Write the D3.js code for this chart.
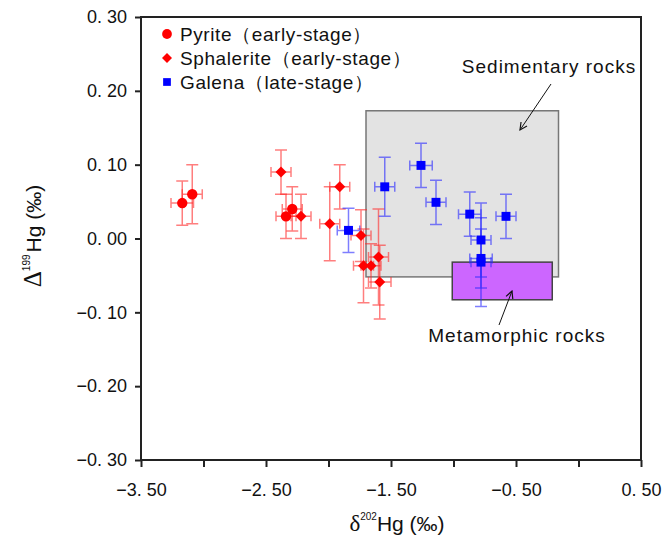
<!DOCTYPE html>
<html lang="en">
<head>
    <meta charset="UTF-8">
    <title>Hg isotopes scatter</title>
    <script src="https://d3js.org/d3.v7.min.js"></script>
    <style>
        body {
            margin: 0;
            background: #fff;
            font-family: 'Liberation Sans', Arial, sans-serif;
        }
        .tick text {
            font-size: 18px;
            fill: #111;
        }
        .axis path, .axis line {
            stroke: #222;
            stroke-width: 2px;
        }
        .legend text {
            font-size: 19px;
            letter-spacing: 0.6px;
            fill: #111;
        }
        .note {
            font-size: 19px;
            letter-spacing: 1px;
            fill: #111;
        }
    </style>
</head>
<body>
    <div id="chart"></div>
    <script>
        // data: x = δ202Hg, y = Δ199Hg, with error half-widths
        const pyrite = [
            { x: -3.17, y: 0.048, ex: 0.09, ey: 0.03 },
            { x: -3.09, y: 0.060, ex: 0.08, ey: 0.04 },
            { x: -2.29, y: 0.040, ex: 0.08, ey: 0.03 },
            { x: -2.34, y: 0.030, ex: 0.08, ey: 0.03 }
        ];
        const sphalerite = [
            { x: -2.38, y: 0.090, ex: 0.08, ey: 0.03 },
            { x: -2.22, y: 0.030, ex: 0.08, ey: 0.03 },
            { x: -1.91, y: 0.070, ex: 0.08, ey: 0.03 },
            { x: -1.99, y: 0.020, ex: 0.08, ey: 0.05 },
            { x: -1.74, y: 0.004, ex: 0.08, ey: 0.035 },
            { x: -1.72, y: -0.037, ex: 0.08, ey: 0.05 },
            { x: -1.66, y: -0.037, ex: 0.08, ey: 0.03 },
            { x: -1.60, y: -0.025, ex: 0.08, ey: 0.065 },
            { x: -1.59, y: -0.059, ex: 0.09, ey: 0.05 }
        ];
        const galena = [
            { x: -1.84, y: 0.011, ex: 0.09, ey: 0.03 },
            { x: -1.55, y: 0.070, ex: 0.08, ey: 0.04 },
            { x: -1.26, y: 0.099, ex: 0.09, ey: 0.03 },
            { x: -1.14, y: 0.049, ex: 0.08, ey: 0.03 },
            { x: -0.87, y: 0.033, ex: 0.09, ey: 0.03 },
            { x: -0.58, y: 0.030, ex: 0.08, ey: 0.03 },
            { x: -0.78, y: -0.002, ex: 0.08, ey: 0.05 },
            { x: -0.78, y: -0.027, ex: 0.09, ey: 0.04 },
            { x: -0.78, y: -0.032, ex: 0.08, ey: 0.06 }
        ];
        const xTicks = [-3.5, -2.5, -1.5, -0.5, 0.5];
        const xMinorTicks = [-3.5, -3, -2.5, -2, -1.5, -1, -0.5, 0, 0.5];
        const yTicks = [0.3, 0.2, 0.1, 0, -0.1, -0.2, -0.3];
        const sedimentaryBox = { x0: -1.70, x1: -0.16, y0: -0.052, y1: 0.173 };
        const metamorphicBox = { x0: -1.01, x1: -0.21, y0: -0.083, y1: -0.032 };

        const margin = { top: 17, right: 26, bottom: 76, left: 141 };
        const W = 667, H = 536;
        const width = W - margin.left - margin.right;
        const height = H - margin.top - margin.bottom;

        const svg = d3.select("#chart").append("svg")
            .attr("width", W)
            .attr("height", H);
        const g = svg.append("g")
            .attr("transform", `translate(${margin.left},${margin.top})`);

        const x = d3.scaleLinear().domain([-3.5, 0.5]).range([0, width]);
        const y = d3.scaleLinear().domain([-0.3, 0.3]).range([height, 0]);

        const fmt = v => d3.format(".2f")(v).replace("-", "\u2212").replace(".", ". ");

        // reference fields
        g.append("rect")
            .attr("x", x(sedimentaryBox.x0))
            .attr("y", y(sedimentaryBox.y1))
            .attr("width", x(sedimentaryBox.x1) - x(sedimentaryBox.x0))
            .attr("height", y(sedimentaryBox.y0) - y(sedimentaryBox.y1))
            .attr("fill", "#e3e3e3")
            .attr("stroke", "#777")
            .attr("stroke-width", 1.5);
        g.append("rect")
            .attr("x", x(metamorphicBox.x0))
            .attr("y", y(metamorphicBox.y1))
            .attr("width", x(metamorphicBox.x1) - x(metamorphicBox.x0))
            .attr("height", y(metamorphicBox.y0) - y(metamorphicBox.y1))
            .attr("fill", "#cc66ff")
            .attr("stroke", "#444")
            .attr("stroke-width", 1.5);

        // axes
        g.append("g")
            .attr("class", "axis")
            .attr("transform", `translate(0,${height})`)
            .call(d3.axisBottom(x).tickValues(xMinorTicks).tickSize(7).tickPadding(16)
                .tickFormat(d => xTicks.includes(d) ? fmt(d) : ""));
        g.append("g")
            .attr("class", "axis")
            .call(d3.axisLeft(y).tickValues(yTicks).tickSize(6).tickPadding(8).tickFormat(fmt));
        g.selectAll(".axis .domain").attr("d", null);
        // frame
        g.append("rect")
            .attr("width", width)
            .attr("height", height)
            .attr("fill", "none")
            .attr("stroke", "#222")
            .attr("stroke-width", 2);

        const diamond = "rotate(45)";
        const series = [
            { data: pyrite, color: "red", bar: "rgba(255,40,40,0.6)", shape: d3.symbolCircle, size: 85, rot: "" },
            { data: sphalerite, color: "red", bar: "rgba(255,40,40,0.6)", shape: d3.symbolSquare, size: 60, rot: diamond },
            { data: galena, color: "blue", bar: "rgba(40,40,255,0.6)", shape: d3.symbolSquare, size: 80, rot: "" }
        ];

        const cap = 6;
        series.forEach(s => {
            const eb = g.append("g").attr("stroke", s.bar).attr("stroke-width", 1.5).attr("fill", "none");
            s.data.forEach(d => {
                const cx = x(d.x), cy = y(d.y);
                const yt = y(d.y + d.ey), yb = y(d.y - d.ey);
                const xl = x(d.x - d.ex), xr = x(d.x + d.ex);
                eb.append("path").attr("d",
                    `M${cx},${yt}V${yb}M${cx - cap},${yt}H${cx + cap}M${cx - cap},${yb}H${cx + cap}` +
                    `M${xl},${cy}H${xr}M${xl},${cy - 5}V${cy + 5}M${xr},${cy - 5}V${cy + 5}`);
            });
        });
        series.forEach(s => {
            g.selectAll(null)
                .data(s.data)
                .enter()
                .append("path")
                .attr("d", d3.symbol().type(s.shape).size(s.size))
                .attr("transform", d => `translate(${x(d.x)},${y(d.y)}) ${s.rot}`)
                .attr("fill", s.color);
        });

        // legend
        const legendItems = [
            { label: "Pyrite（early-stage）", color: "red", shape: d3.symbolCircle, size: 75, rot: "" },
            { label: "Sphalerite（early-stage）", color: "red", shape: d3.symbolSquare, size: 50, rot: diamond },
            { label: "Galena（late-stage）", color: "blue", shape: d3.symbolSquare, size: 60, rot: "" }
        ];
        const legend = svg.append("g").attr("class", "legend");
        legendItems.forEach((d, i) => {
            const ly = 34 + i * 24;
            legend.append("path")
                .attr("d", d3.symbol().type(d.shape).size(d.size))
                .attr("transform", `translate(167,${ly}) ${d.rot}`)
                .attr("fill", d.color);
            legend.append("text")
                .attr("x", 180)
                .attr("y", ly + 7)
                .text(d.label);
        });

        // annotations
        svg.append("defs").append("marker")
            .attr("id", "arr")
            .attr("viewBox", "0 0 10 10")
            .attr("refX", 9).attr("refY", 5)
            .attr("markerWidth", 9).attr("markerHeight", 9)
            .attr("orient", "auto")
            .append("path")
            .attr("d", "M1,1L9,5L1,9")
            .attr("fill", "none")
            .attr("stroke", "#111")
            .attr("stroke-width", 1.3);

        svg.append("text").attr("class", "note")
            .attr("x", 549).attr("y", 73).attr("text-anchor", "middle")
            .text("Sedimentary rocks");
        svg.append("line")
            .attr("x1", 551).attr("y1", 84).attr("x2", 520).attr("y2", 130)
            .attr("stroke", "#111").attr("stroke-width", 1)
            .attr("marker-end", "url(#arr)");

        svg.append("text").attr("class", "note")
            .attr("x", 517).attr("y", 342).attr("text-anchor", "middle")
            .text("Metamorphic rocks");
        svg.append("line")
            .attr("x1", 499).attr("y1", 325).attr("x2", 512).attr("y2", 291)
            .attr("stroke", "#111").attr("stroke-width", 1)
            .attr("marker-end", "url(#arr)");

        // axis titles
        const yt = svg.append("text")
            .attr("transform", "translate(41,236) rotate(-90)")
            .attr("text-anchor", "middle")
            .attr("font-size", 21)
            .attr("fill", "#111");
        yt.append("tspan").attr("font-family", "'Liberation Serif', serif").attr("font-size", 25).text("Δ");
        yt.append("tspan").attr("font-size", 10).attr("dy", -11).text("199");
        yt.append("tspan").attr("dy", 11).attr("dx", 2).text("Hg (‰)");

        const xt = svg.append("text")
            .attr("x", 397).attr("y", 531)
            .attr("text-anchor", "middle")
            .attr("font-size", 21)
            .attr("fill", "#111");
        xt.append("tspan").attr("font-family", "'Liberation Serif', serif").attr("font-size", 23).text("δ");
        xt.append("tspan").attr("font-size", 10).attr("dy", -11).text("202");
        xt.append("tspan").attr("dy", 11).text("Hg (‰)");
    </script>
</body>
</html>
